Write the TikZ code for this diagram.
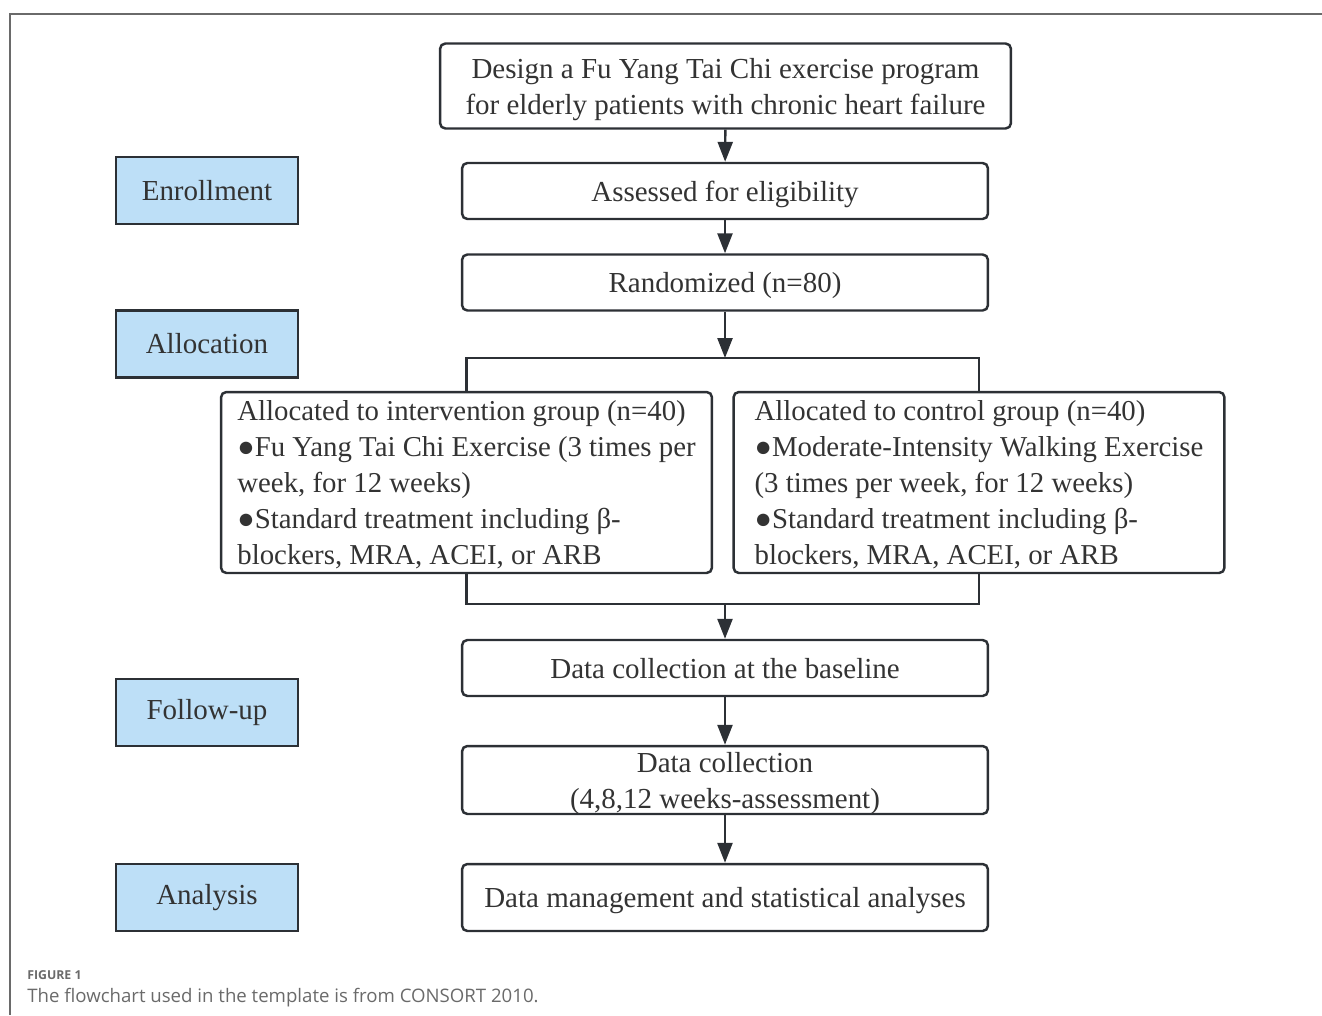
\documentclass[tikz,border=0pt]{standalone}
\usepackage{fontspec}
\setmainfont{Liberation Serif}
\newfontfamily\capfont{Open Sans}
\usetikzlibrary{arrows.meta}
\definecolor{phaseblue}{HTML}{BDDFF7}
\definecolor{inkgray}{HTML}{2C3035}
\definecolor{textgray}{HTML}{333333}
\definecolor{framegray}{HTML}{6A6A6A}
\tikzset{
  boxfont/.style={font=\fontsize{16.5}{20.5}\selectfont, text=textgray},
  stepbox/.style={draw=inkgray, line width=1.4pt, rounded corners=3pt, boxfont, align=center, text depth=0pt, inner sep=0pt, minimum width=10.52cm, minimum height=1.12cm},
  phasebox/.style={draw=inkgray, line width=1.4pt, fill=phaseblue, boxfont, inner sep=0pt, minimum width=3.64cm, minimum height=1.34cm},
  groupbox/.style={stepbox, align=left, font=\fontsize{16.4}{20.5}\selectfont, inner xsep=0.28cm, minimum width=9.82cm, minimum height=3.62cm},
  flow/.style={-{Triangle[length=0.4cm,width=0.3cm]}, draw=inkgray, line width=1.4pt},
  link/.style={draw=inkgray, line width=1.4pt}
}
\begin{document}
\begin{tikzpicture}[x=0.02cm,y=-0.02cm]
    \useasboundingbox (0,0) rectangle (1322,1015);
    \draw[framegray, line width=0.6pt] (1322,14) -- (10,14) -- (10,1015);

    \node[stepbox, minimum width=11.42cm, minimum height=1.7cm] (design) at (725.5,86) {Design a Fu Yang Tai Chi exercise program\\for elderly patients with chronic heart failure};
    \node[stepbox] (assess) at (725,191) {Assessed for eligibility};
    \node[stepbox] (rand) at (725,282.5) {Randomized (n=80)};
    \node[groupbox] (interv) at (466.5,482.5) {Allocated to intervention group (n=40)\\●Fu Yang Tai Chi Exercise (3 times per\\week, for 12 weeks)\\●Standard treatment including β-\\blockers, MRA, ACEI, or ARB};
    \node[groupbox] (ctrl) at (979,482.5) {Allocated to control group (n=40)\\●Moderate-Intensity Walking Exercise\\(3 times per week, for 12 weeks)\\●Standard treatment including β-\\blockers, MRA, ACEI, or ARB};
    \node[stepbox] (base) at (725,668) {Data collection at the baseline};
    \node[stepbox, minimum height=1.36cm] (collect) at (725,780) {Data collection\\(4,8,12 weeks-assessment)};
    \node[stepbox, minimum height=1.34cm] (manage) at (725,897.5) {Data management and statistical analyses};

    \node[phasebox] (enrol) at (207,190.5) {Enrollment};
    \node[phasebox] (alloc) at (207,344) {Allocation};
    \node[phasebox] (follow) at (207,712.5) {Follow-up};
    \node[phasebox] (analysis) at (207,897.5) {Analysis};

    \coordinate (split) at (725,358);
    \coordinate (join) at (725,604);

    \path (design) edge [flow] (assess);
    \path (assess) edge [flow] (rand);
    \path (rand) edge [flow] (split);
    \path [link] (interv.north) |- (split) -| (ctrl.north);
    \path [link] (interv.south) |- (join) -| (ctrl.south);
    \path (join) edge [flow] (base);
    \path (base) edge [flow] (collect);
    \path (collect) edge [flow] (manage);

    \node[anchor=west, inner sep=0pt, text=framegray, font=\capfont\bfseries\fontsize{7}{8}\selectfont] (fig) at (27,975) {FIGURE 1};
    \node[anchor=west, inner sep=0pt, text=framegray, font=\capfont\fontsize{10.6}{12}\selectfont] (cap) at (27,998) {The flowchart used in the template is from CONSORT 2010.};
\end{tikzpicture}
\end{document}
